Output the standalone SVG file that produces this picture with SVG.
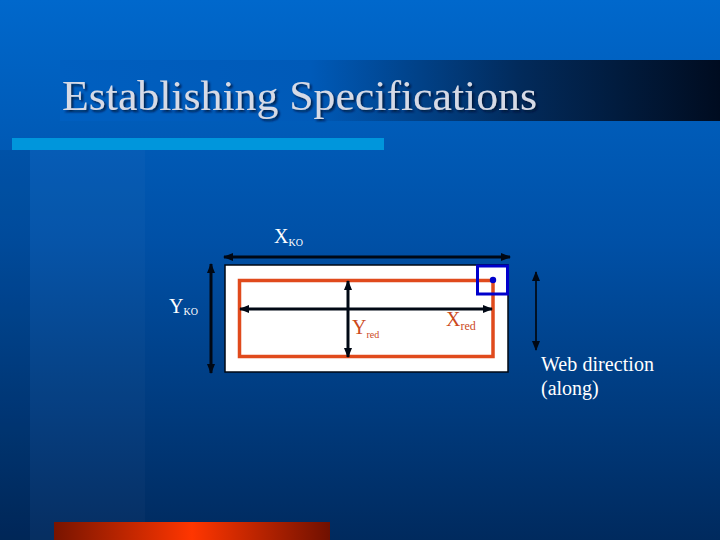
<svg xmlns="http://www.w3.org/2000/svg" width="720" height="540" viewBox="0 0 720 540">
<defs>
<linearGradient id="bg" x1="0" y1="0" x2="0" y2="1">
<stop offset="0" stop-color="#0068cc"/>
<stop offset="0.45" stop-color="#0050a6"/>
<stop offset="1" stop-color="#002a5e"/>
</linearGradient>
<linearGradient id="band" x1="0" y1="0" x2="1" y2="0">
<stop offset="0" stop-color="#005fc0"/>
<stop offset="0.38" stop-color="#005ab8"/>
<stop offset="0.7" stop-color="#022a5a"/>
<stop offset="1" stop-color="#000c20"/>
</linearGradient>
<linearGradient id="orange" x1="0" y1="0" x2="1" y2="0">
<stop offset="0" stop-color="#781400"/>
<stop offset="0.5" stop-color="#ff3600"/>
<stop offset="1" stop-color="#701000"/>
</linearGradient>
<marker id="ahk" viewBox="0 0 10 10" refX="9" refY="5" markerWidth="10" markerHeight="10" orient="auto-start-reverse" markerUnits="userSpaceOnUse">
<path d="M0,1 L10,5 L0,9 z" fill="#000814"/>
</marker>
<filter id="sh" x="-5%" y="-20%" width="110%" height="140%">
<feDropShadow dx="2" dy="2" stdDeviation="0.8" flood-color="#001030" flood-opacity="0.8"/>
</filter>
</defs>
<style>
.t{font-family:"Liberation Serif","Times New Roman",serif}
.w{fill:#ffffff}
.o{fill:#cc4a1c}
.arr{stroke:#000814;stroke-width:3;fill:none;marker-start:url(#ahk);marker-end:url(#ahk)}
.arr2{stroke:#000;stroke-width:1.5;fill:none;marker-start:url(#ahk);marker-end:url(#ahk)}
</style>
<g id="background">
<rect x="0" y="0" width="720" height="540" fill="url(#bg)"/>
<rect x="0" y="150" width="30" height="390" fill="#000" opacity="0.07"/>
<rect x="30" y="150" width="115" height="390" fill="#fff" opacity="0.025"/>
<rect x="60" y="60" width="660" height="61" fill="url(#band)"/>
<rect x="12" y="138" width="372" height="12" fill="#0096dc"/>
<rect x="54" y="522" width="276" height="18" fill="url(#orange)"/>
</g>
<g id="title">
<text class="t" x="62" y="110" font-size="42" textLength="475" lengthAdjust="spacingAndGlyphs" fill="#d6dae6" filter="url(#sh)">Establishing Specifications</text>
</g>
<g id="web">
<rect x="225" y="265" width="283" height="107" fill="#ffffff" stroke="#000814" stroke-width="1.5"/>
</g>
<g id="reduced">
<rect x="239.5" y="280.5" width="253.5" height="76" fill="none" stroke="#e04a1c" stroke-width="3.5"/>
</g>
<g id="corner">
<rect x="477.5" y="266" width="30" height="28" fill="none" stroke="#0000cc" stroke-width="3"/>
<circle cx="493" cy="280" r="3.2" fill="#0000cc"/>
</g>
<g id="connectors">
<line class="arr" x1="224" y1="257" x2="510" y2="257"/>
<line class="arr" x1="211" y1="264" x2="211" y2="373"/>
<line class="arr" x1="240" y1="309" x2="492" y2="309"/>
<line class="arr" x1="348" y1="281" x2="348" y2="357"/>
<line class="arr2" x1="536" y1="272" x2="536" y2="350"/>
</g>
<g id="labels">
<text class="t w" x="274" y="243" font-size="20">X<tspan font-size="10" dy="3">KO</tspan></text>
<text class="t w" x="169" y="313" font-size="20">Y<tspan font-size="10" dy="2">KO</tspan></text>
<text class="t o" x="352" y="334" font-size="20">Y<tspan font-size="10" dy="4">red</tspan></text>
<text class="t o" x="446" y="326" font-size="20">X<tspan font-size="12" dy="4">red</tspan></text>
<text class="t w" x="541" y="371" font-size="20" textLength="113">Web direction</text>
<text class="t w" x="541" y="395" font-size="20">(along)</text>
</g>
</svg>
